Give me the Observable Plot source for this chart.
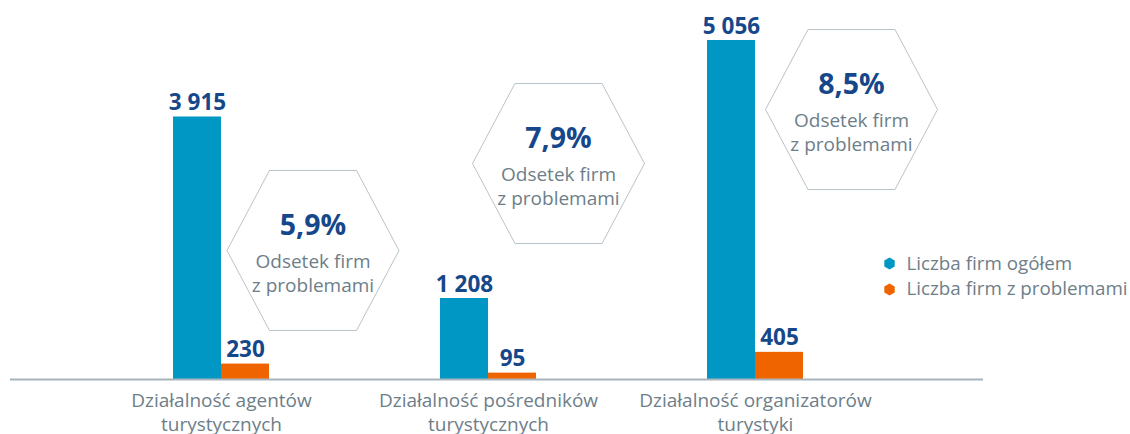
<!DOCTYPE html>
<html>
<head>
<meta charset="utf-8">
<script src="https://cdn.jsdelivr.net/npm/d3@7"></script>
<script src="https://cdn.jsdelivr.net/npm/@observablehq/plot@0.6"></script>
<style>
  html, body { margin: 0; padding: 0; background: #ffffff; }
  #chart { width: 1130px; height: 434px; overflow: hidden; }
</style>
</head>
<body>
<div id="chart"></div>
<script>
// ---- data ----
const categories = [
  "Działalność agentów\nturystycznych",
  "Działalność pośredników\nturystycznych",
  "Działalność organizatorów\nturystyki"
];
const series = ["Liczba firm ogółem", "Liczba firm z problemami"];
const totalFirms = [3915, 1208, 5056];
const problemFirms = [230, 95, 405];
const shareWithProblems = [5.9, 7.9, 8.5];
const shareCaption = "Odsetek firm\nz problemami";

// ---- styles ----
const BLUE = "#0097c4";
const ORANGE = "#f06400";
const DARK = "#16478a";
const GREY = "#6d7e89";
const AXIS = "#a8b4bc";
const HEX = "#b9c3ca";
const FONT = "'Open Sans', sans-serif";

const pl = d3.formatLocale({decimal: ",", thousands: " ", grouping: [3], currency: ["", " zł"]});
const fmtInt = pl.format(",d");
const fmtPct = v => pl.format(".1f")(v) + "%";

const rows = categories.map((c, i) => ({
  category: c, total: totalFirms[i], problems: problemFirms[i], share: shareWithProblems[i]
}));

// flat-top / bottom hexagon with pointed left/right vertices
const hexSymbol = {
  draw(ctx, size) {
    const r = Math.sqrt(size / Math.PI);
    const hw = 1.075 * r, he = 0.544 * r;
    ctx.moveTo(-hw, 0);
    ctx.lineTo(-he, -r);
    ctx.lineTo(he, -r);
    ctx.lineTo(hw, 0);
    ctx.lineTo(he, r);
    ctx.lineTo(-he, r);
    ctx.closePath();
  }
};

// annotation layout (pixel offsets from band centre / frame top)
const hexLayout = [{dx: 91.5, cy: 250}, {dx: 70, cy: 163}, {dx: 96, cy: 109}];
const MT = 40;

const hexMarks = rows.flatMap((d, i) => {
  const {dx, cy} = hexLayout[i];
  return [
    Plot.dot([d], {x: "category", frameAnchor: "top", dx, dy: cy - MT, r: 80,
      symbol: hexSymbol, stroke: HEX, strokeWidth: 1, fill: "white"}),
    Plot.text([d], {x: "category", frameAnchor: "top", dx, dy: cy - MT - 16,
      text: d => fmtPct(d.share), lineAnchor: "bottom", fill: DARK, fontSize: 28.5, fontWeight: 700}),
    Plot.text([d], {x: "category", frameAnchor: "top", dx, dy: cy - MT + 41,
      text: () => shareCaption, lineAnchor: "bottom", lineHeight: 24 / 19, fill: GREY, fontSize: 19})
  ];
});

const legendColors = [BLUE, ORANGE];
const legendMarks = series.flatMap((s, i) => [
  Plot.dot([s], {frameAnchor: "top-left", dx: 879, dy: 223 + i * 26, r: 5.2,
    symbol: "hexagon", fill: legendColors[i]}),
  Plot.text([s], {frameAnchor: "top-left", dx: 896, dy: 229 + i * 25, text: d => d,
    textAnchor: "start", lineAnchor: "bottom", fill: GREY, fontSize: 18.8})
]);

const chart = Plot.plot({
  width: 1130,
  height: 434,
  marginLeft: 10,
  marginRight: 147,
  marginTop: MT,
  marginBottom: 55,
  style: {fontFamily: FONT, background: "white", overflow: "visible"},
  x: {domain: categories, paddingInner: 0.64112, paddingOuter: 0.63925, align: 0.4751, label: null},
  y: {domain: [0, d3.max(totalFirms)], axis: null},
  marks: [
    ...hexMarks,
    Plot.barY(rows, {x: "category", y: "total", fill: BLUE, insetRight: 48, insetLeft: 0}),
    Plot.barY(rows, {x: "category", y: "problems", fill: ORANGE, insetLeft: 48, insetRight: 0}),
    Plot.ruleY([0], {stroke: AXIS, strokeWidth: 2}),
    Plot.text(rows, {x: "category", y: "total", text: d => fmtInt(d.total), dx: -24, dy: -7,
      lineAnchor: "bottom", fill: DARK, fontSize: 22.5, fontWeight: 700}),
    Plot.text(rows, {x: "category", y: "problems", text: d => fmtInt(d.problems), dx: 24, dy: -7,
      lineAnchor: "bottom", fill: DARK, fontSize: 22.5, fontWeight: 700}),
    Plot.axisX({tickSize: 0, tickPadding: 10, fontSize: 19, lineHeight: 24 / 19, fill: GREY, label: null}),
    ...legendMarks
  ]
});

document.getElementById("chart").appendChild(chart);
</script>
</body>
</html>
